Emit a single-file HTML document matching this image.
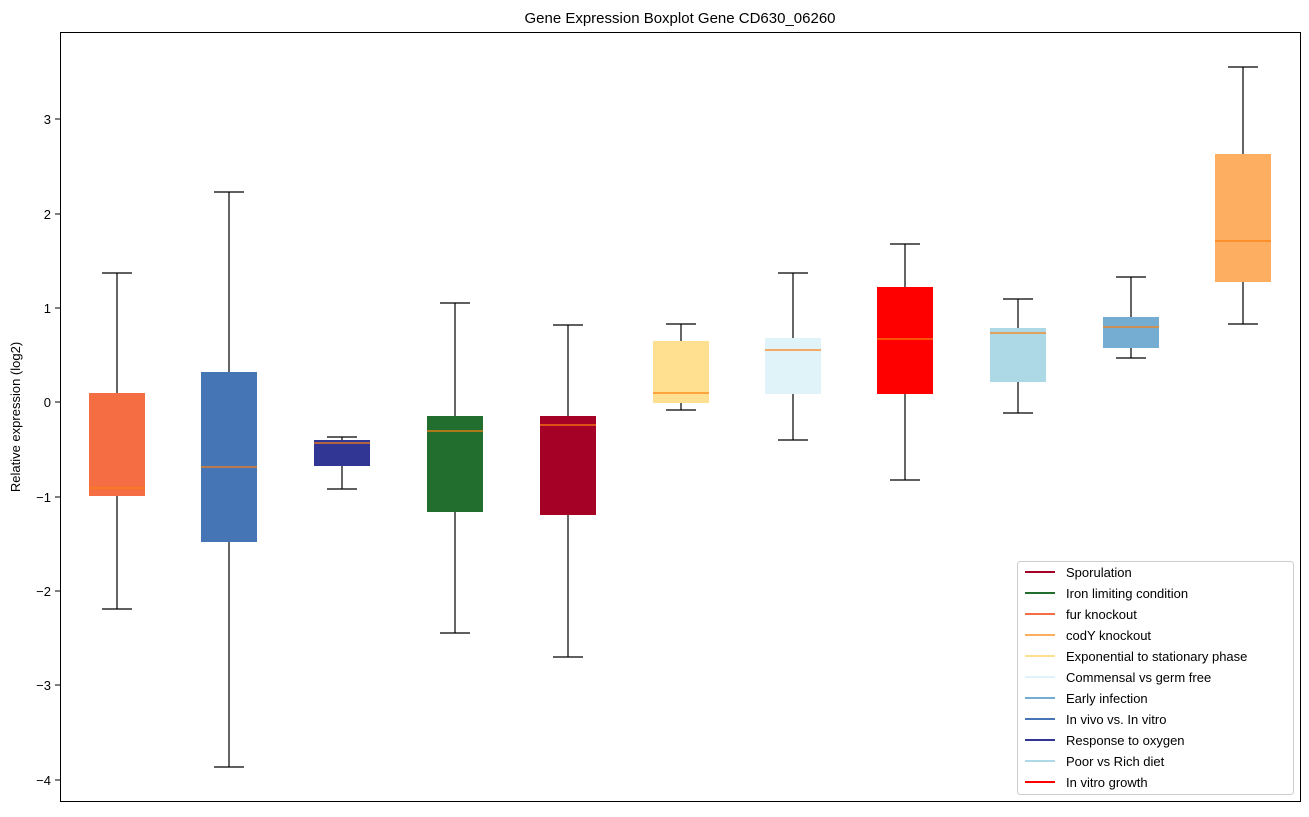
<!DOCTYPE html>
<html><head><meta charset="utf-8"><style>body{margin:0;background:#fff}</style></head><body>
<svg width="1309" height="812" xmlns="http://www.w3.org/2000/svg" font-family="Liberation Sans, DejaVu Sans, sans-serif">
<rect width="1309" height="812" fill="#fff"/>
<text x="680" y="23" font-size="15" text-anchor="middle">Gene Expression Boxplot Gene CD630_06260</text>
<text transform="translate(20,417) rotate(-90)" font-size="13" text-anchor="middle">Relative expression (log2)</text>
<g font-size="13" text-anchor="end" stroke-width="1">
<line x1="55" x2="60" y1="119" y2="119" stroke="#000"/><text x="51" y="124">3</text>
<line x1="55" x2="60" y1="214" y2="214" stroke="#000"/><text x="51" y="219">2</text>
<line x1="55" x2="60" y1="308" y2="308" stroke="#000"/><text x="51" y="313">1</text>
<line x1="55" x2="60" y1="402" y2="402" stroke="#000"/><text x="51" y="407">0</text>
<line x1="55" x2="60" y1="497" y2="497" stroke="#000"/><text x="51" y="502">−1</text>
<line x1="55" x2="60" y1="591" y2="591" stroke="#000"/><text x="51" y="596">−2</text>
<line x1="55" x2="60" y1="685" y2="685" stroke="#000"/><text x="51" y="690">−3</text>
<line x1="55" x2="60" y1="780" y2="780" stroke="#000"/><text x="51" y="785">−4</text>
</g>
<g stroke="#000" stroke-width="1.2" fill="none">
<line x1="117" x2="117" y1="273" y2="393"/><line x1="117" x2="117" y1="496" y2="609"/><line x1="102" x2="132" y1="273" y2="273"/><line x1="102" x2="132" y1="609" y2="609"/><rect x="89" y="393" width="56" height="103" fill="#f46d43" stroke="none"/><line x1="89" x2="145" y1="488" y2="488" stroke="#ff7f0e"/>
<line x1="229" x2="229" y1="192" y2="372"/><line x1="229" x2="229" y1="542" y2="767"/><line x1="214" x2="244" y1="192" y2="192"/><line x1="214" x2="244" y1="767" y2="767"/><rect x="201" y="372" width="56" height="170" fill="#4575b4" stroke="none"/><line x1="201" x2="257" y1="467" y2="467" stroke="#ff7f0e"/>
<line x1="342" x2="342" y1="437" y2="440"/><line x1="342" x2="342" y1="466" y2="489"/><line x1="327" x2="357" y1="437" y2="437"/><line x1="327" x2="357" y1="489" y2="489"/><rect x="314" y="440" width="56" height="26" fill="#313695" stroke="none"/><line x1="314" x2="370" y1="443" y2="443" stroke="#ff7f0e"/>
<line x1="455" x2="455" y1="303" y2="416"/><line x1="455" x2="455" y1="512" y2="633"/><line x1="440" x2="470" y1="303" y2="303"/><line x1="440" x2="470" y1="633" y2="633"/><rect x="427" y="416" width="56" height="96" fill="#226e2f" stroke="none"/><line x1="427" x2="483" y1="431" y2="431" stroke="#ff7f0e"/>
<line x1="568" x2="568" y1="325" y2="416"/><line x1="568" x2="568" y1="515" y2="657"/><line x1="553" x2="583" y1="325" y2="325"/><line x1="553" x2="583" y1="657" y2="657"/><rect x="540" y="416" width="56" height="99" fill="#a50026" stroke="none"/><line x1="540" x2="596" y1="425" y2="425" stroke="#ff7f0e"/>
<line x1="681" x2="681" y1="324" y2="341"/><line x1="681" x2="681" y1="403" y2="410"/><line x1="666" x2="696" y1="324" y2="324"/><line x1="666" x2="696" y1="410" y2="410"/><rect x="653" y="341" width="56" height="62" fill="#fee090" stroke="none"/><line x1="653" x2="709" y1="393" y2="393" stroke="#ff7f0e"/>
<line x1="793" x2="793" y1="273" y2="338"/><line x1="793" x2="793" y1="394" y2="440"/><line x1="778" x2="808" y1="273" y2="273"/><line x1="778" x2="808" y1="440" y2="440"/><rect x="765" y="338" width="56" height="56" fill="#e0f3f8" stroke="none"/><line x1="765" x2="821" y1="350" y2="350" stroke="#ff7f0e"/>
<line x1="905" x2="905" y1="244" y2="287"/><line x1="905" x2="905" y1="394" y2="480"/><line x1="890" x2="920" y1="244" y2="244"/><line x1="890" x2="920" y1="480" y2="480"/><rect x="877" y="287" width="56" height="107" fill="#ff0000" stroke="none"/><line x1="877" x2="933" y1="339" y2="339" stroke="#ff7f0e"/>
<line x1="1018" x2="1018" y1="299" y2="328"/><line x1="1018" x2="1018" y1="382" y2="413"/><line x1="1003" x2="1033" y1="299" y2="299"/><line x1="1003" x2="1033" y1="413" y2="413"/><rect x="990" y="328" width="56" height="54" fill="#add8e6" stroke="none"/><line x1="990" x2="1046" y1="333" y2="333" stroke="#ff7f0e"/>
<line x1="1131" x2="1131" y1="277" y2="317"/><line x1="1131" x2="1131" y1="348" y2="358"/><line x1="1116" x2="1146" y1="277" y2="277"/><line x1="1116" x2="1146" y1="358" y2="358"/><rect x="1103" y="317" width="56" height="31" fill="#74add1" stroke="none"/><line x1="1103" x2="1159" y1="327" y2="327" stroke="#ff7f0e"/>
<line x1="1243" x2="1243" y1="67" y2="154"/><line x1="1243" x2="1243" y1="282" y2="324"/><line x1="1228" x2="1258" y1="67" y2="67"/><line x1="1228" x2="1258" y1="324" y2="324"/><rect x="1215" y="154" width="56" height="128" fill="#fdae61" stroke="none"/><line x1="1215" x2="1271" y1="241" y2="241" stroke="#ff7f0e"/>
</g>
<rect x="60.5" y="32.5" width="1240" height="769" fill="none" stroke="#000"/>
<rect x="1017.5" y="561.5" width="276" height="233" rx="3" fill="#fff" fill-opacity="0.8" stroke="#ccc"/>
<g font-size="13" stroke-width="2">
<line x1="1025" x2="1055" y1="572" y2="572" stroke="#a50026"/><text x="1066" y="577">Sporulation</text>
<line x1="1025" x2="1055" y1="593" y2="593" stroke="#226e2f"/><text x="1066" y="598">Iron limiting condition</text>
<line x1="1025" x2="1055" y1="614" y2="614" stroke="#f46d43"/><text x="1066" y="619">fur knockout</text>
<line x1="1025" x2="1055" y1="635" y2="635" stroke="#fdae61"/><text x="1066" y="640">codY knockout</text>
<line x1="1025" x2="1055" y1="656" y2="656" stroke="#fee090"/><text x="1066" y="661">Exponential to stationary phase</text>
<line x1="1025" x2="1055" y1="677" y2="677" stroke="#e0f3f8"/><text x="1066" y="682">Commensal vs germ free</text>
<line x1="1025" x2="1055" y1="698" y2="698" stroke="#74add1"/><text x="1066" y="703">Early infection</text>
<line x1="1025" x2="1055" y1="719" y2="719" stroke="#4575b4"/><text x="1066" y="724">In vivo vs. In vitro</text>
<line x1="1025" x2="1055" y1="740" y2="740" stroke="#313695"/><text x="1066" y="745">Response to oxygen</text>
<line x1="1025" x2="1055" y1="761" y2="761" stroke="#add8e6"/><text x="1066" y="766">Poor vs Rich diet</text>
<line x1="1025" x2="1055" y1="782" y2="782" stroke="#ff0000"/><text x="1066" y="787">In vitro growth</text>
</g>
</svg>
</body></html>
